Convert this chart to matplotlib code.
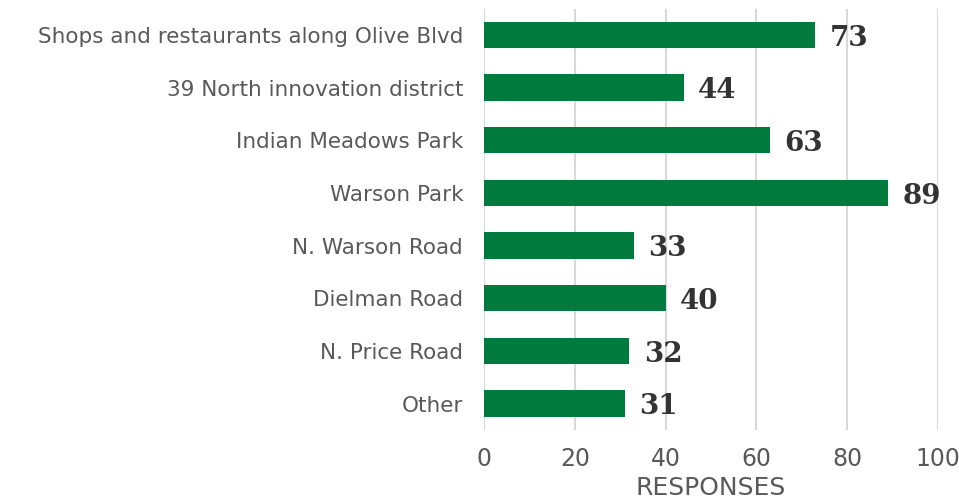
import matplotlib.pyplot as plt

categories = ['Shops and restaurants along Olive Blvd', '39 North innovation district',
              'Indian Meadows Park', 'Warson Park', 'N. Warson Road', 'Dielman Road',
              'N. Price Road', 'Other']
responses = [73, 44, 63, 89, 33, 40, 32, 31]
xticks = [0, 20, 40, 60, 80, 100]

fig = plt.figure(figsize=(9.59, 5.0), dpi=100)
ax = fig.add_axes([0.5047, 0.14, 0.4734, 0.843])

y = range(len(categories))
ax.barh(y, responses, height=0.5, color='#007A3D', zorder=2)

# value labels
for i, v in enumerate(responses):
    ax.text(v + 3.2, i + 0.06, str(v), va='center', ha='left', fontsize=20,
            fontweight='bold', family='DejaVu Serif', color='#333333')

lab = dict(fontsize=15.5, family='DejaVu Sans', color='#595959')
ax.set_xlim(0, 100)
ax.set_ylim(7.5, -0.5)
ax.set_yticks(list(y))
ax.set_yticklabels(categories, **lab)
ax.set_xticks(xticks)
ax.set_xticklabels([str(t) for t in xticks], fontsize=17, family='DejaVu Sans', color='#595959')
ax.tick_params(length=0)
ax.tick_params(axis='y', pad=15)
ax.tick_params(axis='x', pad=12)
ax.set_xlabel('RESPONSES', labelpad=4, fontsize=18, family='DejaVu Sans', color='#595959')

ax.grid(axis='x', color='#d9d9d9', linewidth=1.5, zorder=0)
for s in ax.spines.values():
    s.set_visible(False)

fig.savefig('out.png', dpi=100)
